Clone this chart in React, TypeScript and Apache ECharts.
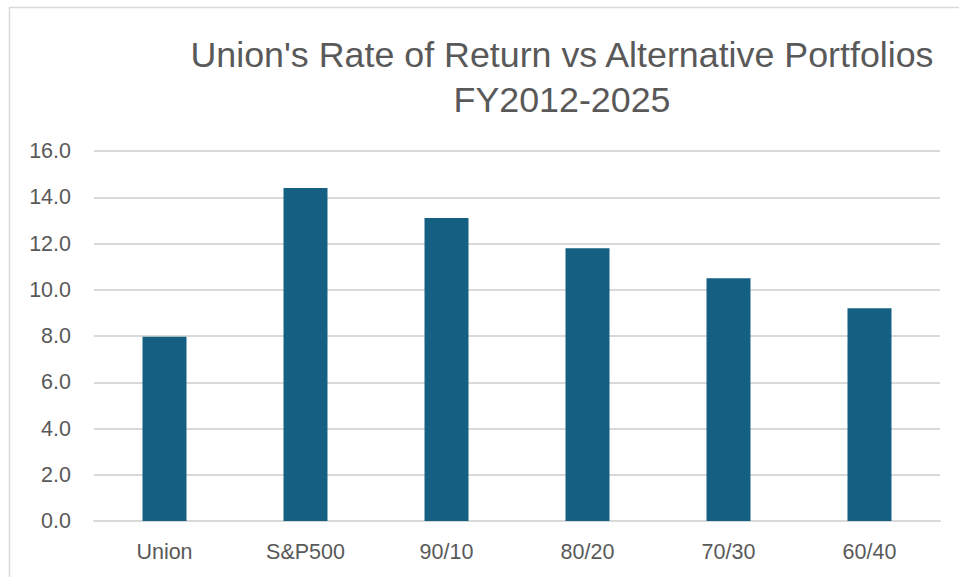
import React, { useEffect, useRef } from "react";
import * as echarts from "echarts";

const categories = ["Union", "S&P500", "90/10", "80/20", "70/30", "60/40"];
const returns = [7.97, 14.4, 13.1, 11.8, 10.5, 9.2];
const titleLines = ["Union's Rate of Return vs Alternative Portfolios", "FY2012-2025"];
const yMin = 0;
const yMax = 16;
const yStep = 2;

export default function App() {
  const ref = useRef<HTMLDivElement>(null);
  useEffect(() => {
    if (!ref.current) return;
    const chart = echarts.init(ref.current, null, { renderer: "svg" });
    const font = "'Liberation Sans', Arial, sans-serif";
    chart.setOption({
      animation: false,
      backgroundColor: "#ffffff",
      title: {
        text: titleLines.join("\n"),
        left: 562,
        top: 32,
        textAlign: "center",
        textStyle: {
          color: "#595959",
          fontSize: 35.8,
          fontWeight: "normal",
          fontFamily: font,
          lineHeight: 45,
        },
        padding: 0,
      },
      graphic: [
        {
          type: "rect",
          shape: { x: 9.5, y: 7.5, width: 1000, height: 1000 },
          style: { fill: "none", stroke: "#d9d9d9", lineWidth: 1.5 },
          silent: true,
        },
      ],
      grid: { left: 94, right: 19, top: 151, bottom: 56, containLabel: false },
      xAxis: {
        type: "category",
        data: categories,
        axisLine: { show: true, lineStyle: { color: "#d9d9d9", width: 2 } },
        axisTick: { show: false },
        axisLabel: {
          color: "#595959",
          fontSize: 21.5,
          fontFamily: font,
          margin: 20,
        },
      },
      yAxis: {
        type: "value",
        min: yMin,
        max: yMax,
        interval: yStep,
        axisLine: { show: false },
        axisTick: { show: false },
        splitLine: { lineStyle: { color: "#d9d9d9", width: 2 } },
        axisLabel: {
          color: "#595959",
          fontSize: 21.5,
          fontFamily: font,
          margin: 23,
          formatter: (v: number) => v.toFixed(1),
        },
      },
      series: [
        {
          type: "bar",
          data: returns,
          barWidth: 44,
          itemStyle: { color: "#156082" },
        },
      ],
    });
    return () => chart.dispose();
  }, []);
  return (
    <div
      ref={ref}
      style={{ position: "absolute", left: 0, top: 0, width: 959, height: 577 }}
    />
  );
}
